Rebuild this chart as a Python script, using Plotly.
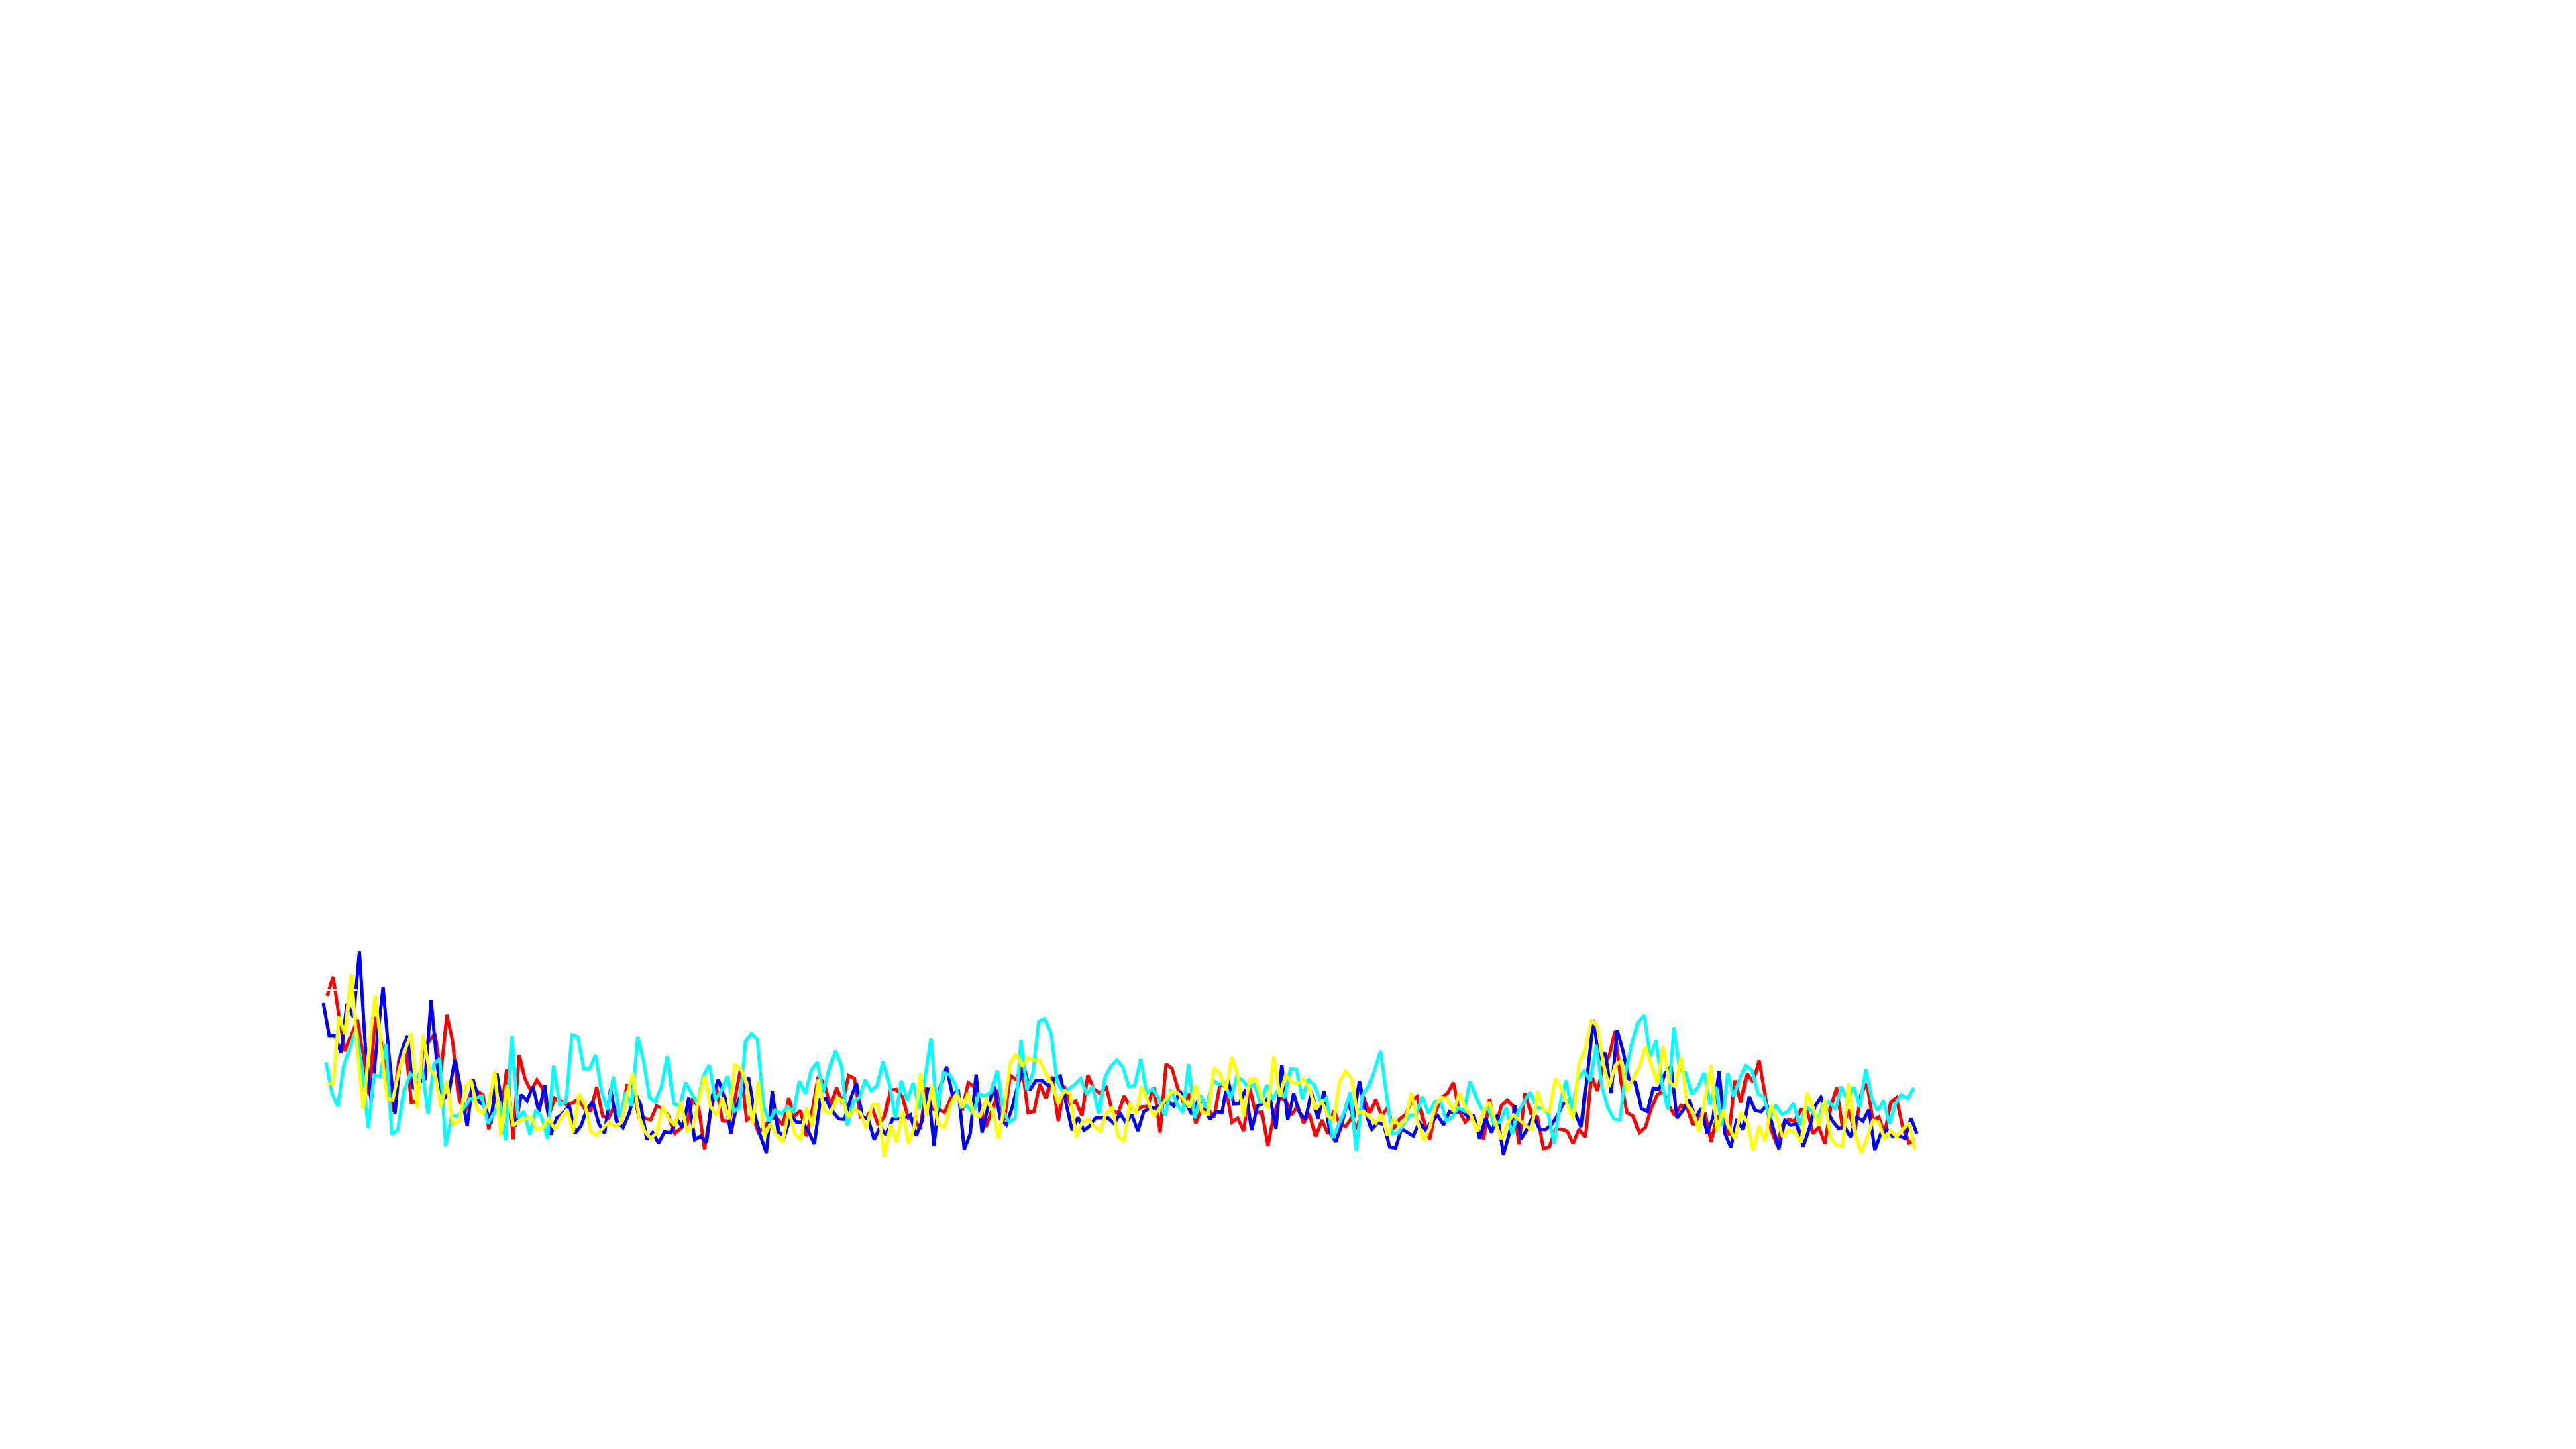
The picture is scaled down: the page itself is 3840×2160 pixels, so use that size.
import plotly.graph_objects as go

red = [747,832,655,500,570,640,470,300,652,540,380,230,460,530,272,275,510,545,577,400,662,540,280,230,320,320,303,150,300,210,417,105,483,375,320,370,330,210,288,275,262,270,285,240,235,338,
210,200,255,210,345,340,205,200,192,255,245,210,132,155,170,288,250,60,230,335,190,185,280,425,192,210,135,160,200,200,170,288,210,235,118,240,385,355,255,335,265,390,377,205,
200,245,170,205,325,327,295,200,195,150,335,240,240,227,285,320,235,358,340,260,160,235,325,190,390,372,430,225,230,352,287,385,187,342,265,275,210,392,330,310,335,235,222,297,255,
230,252,252,337,135,442,422,330,265,308,177,240,240,205,350,340,182,200,142,338,225,227,75,220,290,280,215,255,178,220,118,192,130,235,175,162,200,150,295,225,282,210,248,150,
195,215,275,295,190,105,230,290,310,358,230,182,210,150,105,285,155,258,280,255,82,312,220,205,62,70,150,150,142,85,150,115,390,320,430,480,588,360,225,210,135,158,245,303,320,255,
210,258,250,170,210,220,93,210,180,120,368,270,397,360,458,310,150,80,170,195,185,240,238,130,160,85,250,335,155,238,145,305,355,190,205,130,270,290,165,88,100]

blue = [715,568,568,492,712,650,945,520,275,550,785,480,220,490,568,330,360,375,728,440,280,310,460,310,165,372,275,255,175,402,245,245,162,303,278,340,230,345,125,200,220,260,132,165,240,275,
175,132,330,185,157,220,310,260,103,135,87,138,134,195,157,290,103,118,90,300,372,290,130,260,320,380,220,120,43,318,135,120,210,182,182,140,83,282,285,230,197,195,285,355,
205,195,103,160,125,197,197,200,215,120,190,335,75,335,430,300,325,58,130,395,135,250,340,195,170,250,350,425,325,368,368,345,375,388,265,145,203,145,165,202,203,200,175,222,180,215,
142,230,245,247,265,275,255,320,270,218,275,275,195,230,225,370,265,267,328,145,255,270,295,152,438,192,308,225,195,315,197,320,135,93,170,280,200,365,230,150,180,172,70,65,
152,135,120,180,145,185,212,170,230,225,235,210,212,107,200,135,215,35,130,258,105,150,210,150,148,170,210,265,280,225,160,400,640,460,493,310,593,500,375,360,243,230,333,330,400,430,
200,235,283,200,245,132,205,410,130,67,195,150,295,235,230,260,160,60,190,168,175,72,150,255,292,240,185,153,160,115,205,187,238,55,130,150,117,122,110,200,130]

cyan = [450,310,253,435,520,600,420,155,392,385,532,127,147,320,400,375,422,220,442,467,75,210,210,250,285,288,298,175,220,275,100,567,200,232,125,238,205,107,435,263,273,572,563,422,422,483,
320,238,385,205,315,255,563,455,290,275,340,477,267,255,358,310,265,390,438,282,320,387,230,250,543,577,552,260,185,235,220,252,230,365,308,415,450,312,420,503,433,167,275,290,370,
322,345,452,350,200,367,277,357,242,380,555,230,403,395,352,250,258,220,307,298,315,413,230,182,200,550,325,400,632,644,575,360,315,330,350,377,305,342,222,383,433,460,428,340,345,
465,310,330,285,210,328,265,225,442,200,300,245,368,350,355,285,383,370,335,350,268,348,283,330,290,420,418,283,375,345,270,288,110,170,230,315,52,300,340,415,502,300,130,135,
180,213,215,295,222,272,278,188,205,248,233,364,290,235,243,170,185,248,130,230,275,314,250,245,220,85,265,368,235,375,410,365,527,335,245,197,193,410,535,628,660,475,548,350,240,
605,415,403,307,338,403,263,340,165,402,295,375,435,413,308,293,200,260,218,230,267,170,255,230,190,270,272,240,340,275,338,250,420,288,235,278,175,265,303,287,335]

yellow = [353,353,655,575,845,490,243,520,750,520,288,282,410,510,578,243,570,420,393,250,367,173,188,342,368,240,222,270,410,118,348,165,188,197,207,148,157,202,150,200,240,135,308,262,140,123,
155,182,162,178,300,400,210,140,110,132,252,200,165,275,142,162,280,390,255,210,290,195,443,420,360,172,365,115,175,125,92,240,132,102,248,165,372,233,222,290,278,205,242,225,155,
260,263,28,172,93,232,87,160,403,210,348,172,160,260,308,250,312,215,207,288,240,108,255,447,488,432,472,460,460,395,350,265,320,310,115,180,197,165,142,225,248,117,95,270,
220,342,280,210,250,288,320,312,280,250,348,230,220,425,400,323,473,390,207,372,375,290,243,477,295,395,360,353,375,330,240,278,210,192,365,410,378,222,232,205,178,220,120,198,165,
190,312,190,100,155,260,292,285,230,312,250,212,140,237,272,180,105,175,215,190,170,148,318,238,230,377,335,265,195,445,510,640,608,445,338,435,458,320,375,430,522,440,355,522,365,
338,475,265,225,140,280,438,140,238,160,107,228,180,55,165,95,260,200,115,148,138,90,312,250,165,282,110,78,73,355,130,45,110,190,183,103,145,115,150,180,60]

white_x = [0, 5]
white_y = [772, 772]

series = [("red", red, "#ff0000", 0.0),
          ("blue", blue, "#0000ff", -0.66),
          ("cyan", cyan, "#00ffff", -0.19),
          ("yellow", yellow, "#ffff00", 0.0)]

fig = go.Figure()
for name, values, color, shift in series:
    if name == "cyan":
        fig.add_trace(go.Scatter(x=white_x, y=white_y, mode="lines", name="white",
                                 line=dict(color="#ffffff", width=2)))
    fig.add_trace(go.Scatter(x=[i + shift for i in range(len(values))], y=values, mode="lines",
                             name=name, line=dict(color=color, width=5)))

fig.update_layout(
    width=3840, height=2160, showlegend=False,
    paper_bgcolor="white", plot_bgcolor="white",
    margin=dict(l=392, r=908, t=1392, b=428, pad=0),
    xaxis=dict(visible=False, range=[-9.83, 274.61]),
    yaxis=dict(visible=False, range=[-20, 1000]),
)
fig.write_html("out.html")
